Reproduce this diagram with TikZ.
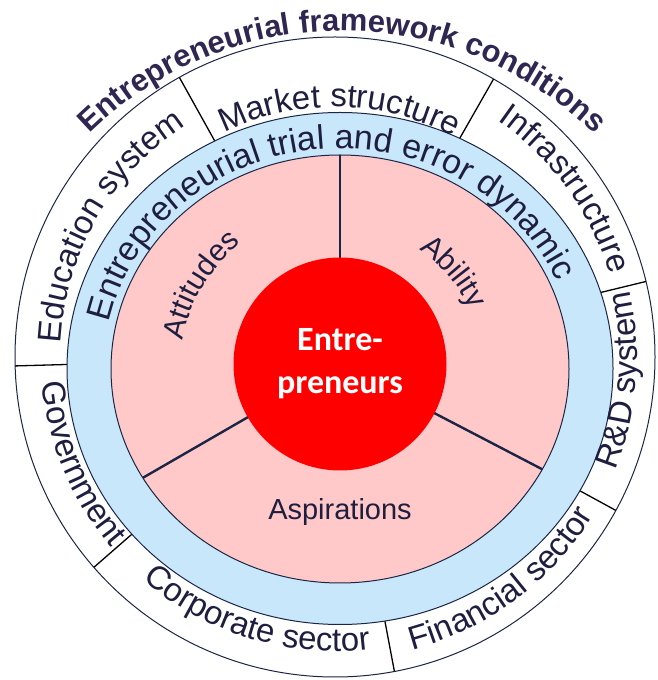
\documentclass[tikz,border=0pt]{standalone}
\usepackage{fontspec}
\setmainfont{Liberation Sans}
\newfontfamily\calibrifont{Carlito}
\usetikzlibrary{decorations.text}
\definecolor{ringtext}{HTML}{1E1E40}
\definecolor{titletext}{HTML}{2F2752}
\definecolor{bluefill}{HTML}{C9E7FB}
\definecolor{pinkfill}{HTML}{FFC9C9}
\definecolor{redfill}{HTML}{FF0000}
\definecolor{linecol}{HTML}{1B2545}
\tikzset{
  ringlabel/.style={decorate, decoration={text along path, text align=center, text color=ringtext, text={|\fontsize{33}{39}\selectfont|#1}}},
  bluelabel/.style={decorate, decoration={text along path, text align=center, text color=ringtext, text={|\fontsize{34}{40}\selectfont|#1}}},
  innerlabel/.style={decorate, decoration={text along path, text align=center, text color=ringtext, text={|\fontsize{30}{36}\selectfont|#1}}},
  titlelabel/.style={decorate, decoration={text along path, text align=center, text color=titletext, text={|\fontsize{31}{37}\selectfont\bfseries|#1}}},
  outline/.style={draw=linecol, line width=1pt},
  divider/.style={draw=black, line width=1.3pt},
  spoke/.style={draw=linecol, line width=2.4pt},
}
\begin{document}
\begin{tikzpicture}[x=1pt,y=1pt]
\useasboundingbox (0,0) rectangle (658,680);
\coordinate (O) at (335,323);
\coordinate (B) at (340,311.5);
\coordinate (P) at (340,311);
\coordinate (R) at (340,316);
\coordinate (T) at (342,288);
% outer ring
\draw[outline, fill=white] (O) circle[radius=320];
\foreach \a in {119.1,60.3,13.65,-28.65,-79.3,221.1,181.6}
  \draw[divider] ([shift={(\a:320)}]O) -- ([shift={(\a:225)}]O);
% blue ring
\draw[outline, fill=bluefill] (B) ellipse[x radius=273, y radius=256];
% pink disc
\draw[outline, fill=pinkfill] (P) ellipse[x radius=229, y radius=214];
\begin{scope}
  \clip (P) ellipse[x radius=229, y radius=214];
  \foreach \a in {90,210,332.5}
    \draw[spoke] (R) -- ++(\a:300);
\end{scope}
% red core
\fill[redfill] (R) circle[radius=106.5];
\node[align=center, text=white, font=\calibrifont\bfseries\fontsize{34}{43}\selectfont] (ent) at (R) {Entre-\\preneurs};
% title
\path[titlelabel={Entrepreneurial framework conditions}] ([shift={(150:361)}]T) arc[start angle=150, end angle=30, radius=361];
% outer ring labels
\path[ringlabel={Education system}] ([shift={(190:275)}]O) arc[start angle=190, end angle=110, radius=275];
\path[ringlabel={Market structure}] ([shift={(129:250)}]O) arc[start angle=129, end angle=49, radius=250];
\path[ringlabel={Infrastructure}] ([shift={(70:287)}]O) arc[start angle=70, end angle=2, radius=287];
\path[ringlabel={R{\&}D system}] ([shift={(-34.7:302)}]O) arc[start angle=-34.7, end angle=25.3, radius=302];
\path[ringlabel={Financial sector}] ([shift={(-93.3:303)}]O) arc[start angle=-93.3, end angle=-13.3, radius=303];
\path[ringlabel={Corporate sector}] ([shift={(213:294)}]O) arc[start angle=213, end angle=293, radius=294];
\path[ringlabel={Government}] ([shift={(172.7:294)}]O) arc[start angle=172.7, end angle=232.7, radius=294];
% blue ring label
\path[bluelabel={Entrepreneurial trial and error dynamic}] ([shift={(185.6:236 and 220)}]B) arc[start angle=185.6, end angle=5.6, x radius=236, y radius=220];
% inner labels
\path[innerlabel={Attitudes}] ([shift={(189:160)}]P) arc[start angle=189, end angle=109, radius=160];
\path[innerlabel={Ability}] ([shift={(80.5:143)}]P) arc[start angle=80.5, end angle=0.5, radius=143];
\node[font=\fontsize{29}{35}\selectfont, text=ringtext] (asp) at (340,168) {Aspirations};
\end{tikzpicture}
\end{document}
